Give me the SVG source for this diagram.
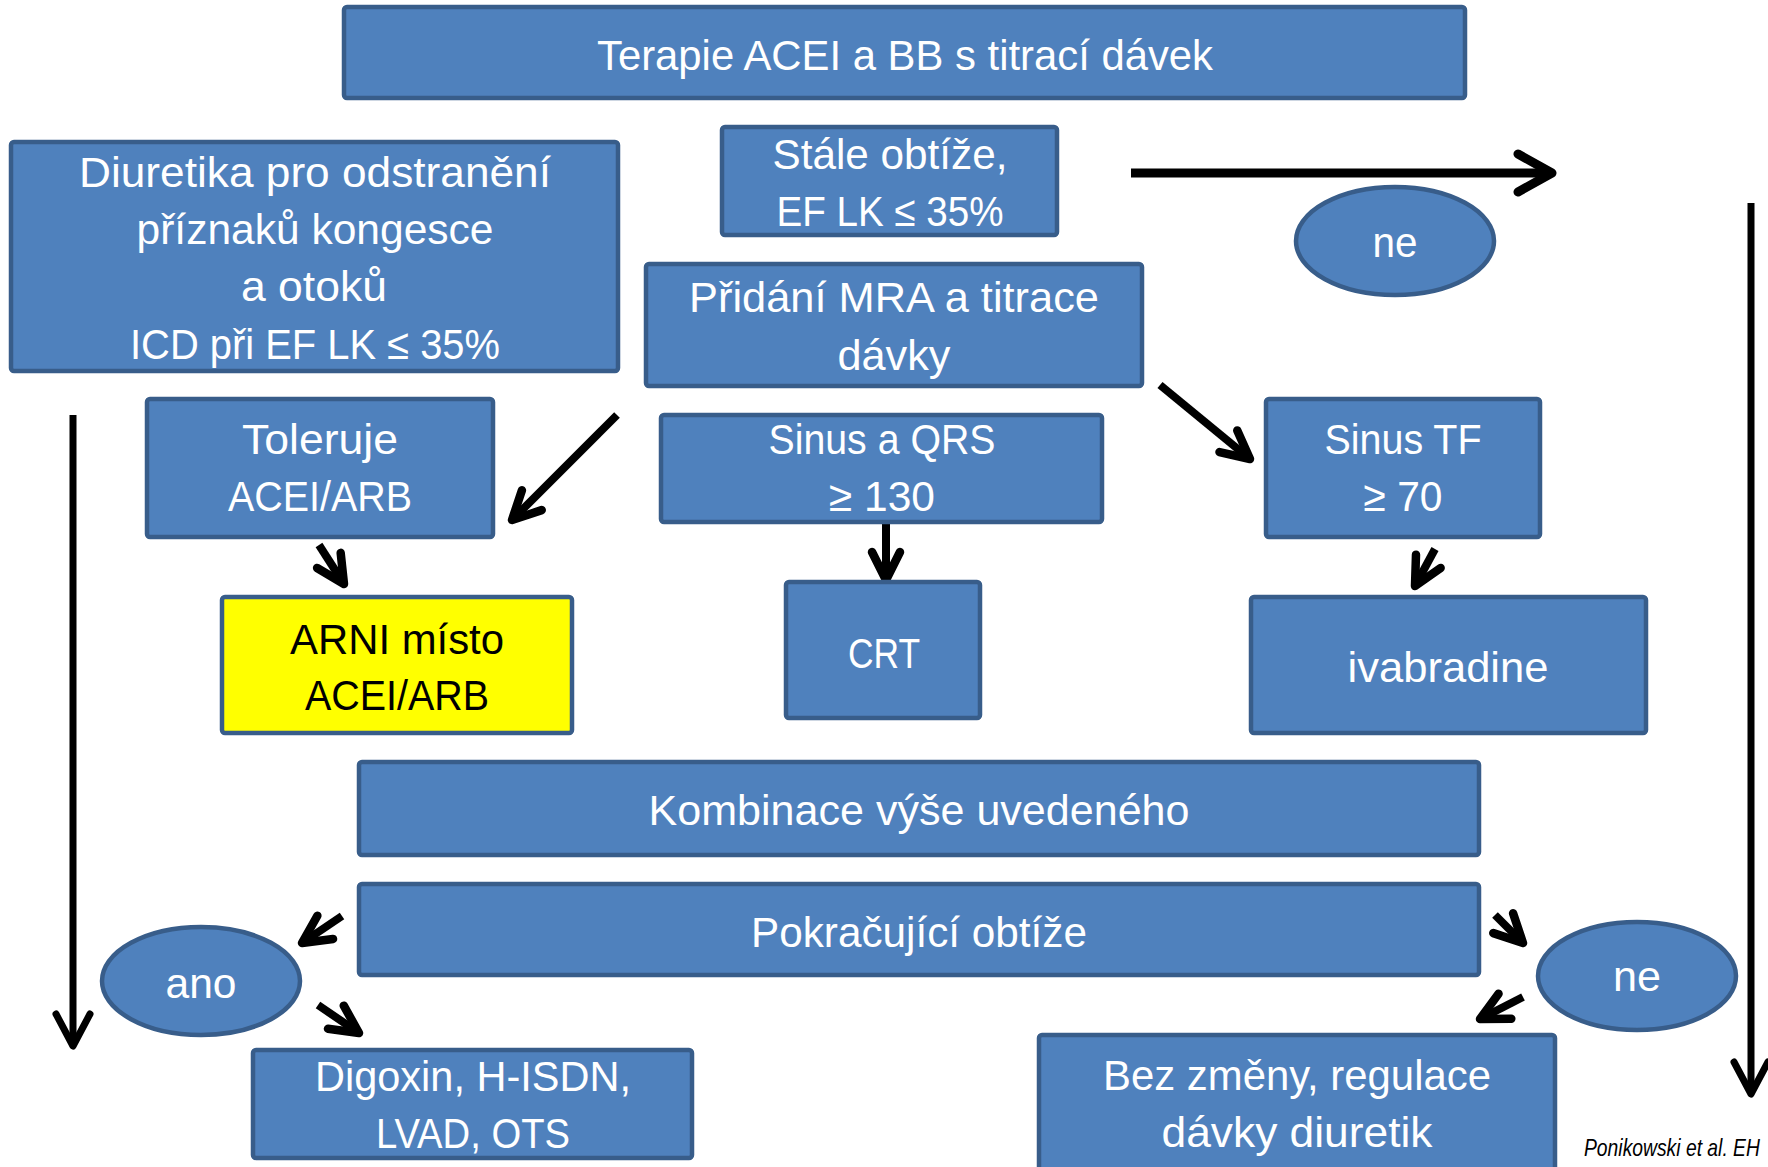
<svg xmlns="http://www.w3.org/2000/svg" width="1768" height="1167" viewBox="0 0 1768 1167">
<style>
.box{fill:#4F81BD;stroke:#385D8A;stroke-width:4.5}
.yel{fill:#FFFF00;stroke:#385D8A;stroke-width:4.5}
.t{font-family:"Liberation Sans",Arial,sans-serif;font-size:43px;fill:#FFFFFF;text-anchor:middle}
.tb{fill:#000000}
.ar{stroke:#000;fill:none;stroke-width:8;stroke-linecap:butt}
.cite{font-family:"Liberation Sans",Arial,sans-serif;font-size:23px;font-style:italic;fill:#000}
</style>
<defs>
<marker id="ah" markerUnits="userSpaceOnUse" orient="auto" refX="0" refY="0" markerWidth="60" markerHeight="60" overflow="visible">
<path d="M-28,-14 L0,0 L-28,14" fill="none" stroke="#000" stroke-width="8.5" stroke-linecap="round" stroke-linejoin="round"/>
</marker>
<marker id="ahH" markerUnits="userSpaceOnUse" orient="auto" refX="0" refY="0" markerWidth="60" markerHeight="60" overflow="visible">
<path d="M-34,-19 L0,0 L-34,19" fill="none" stroke="#000" stroke-width="9" stroke-linecap="round" stroke-linejoin="round"/>
</marker>
<marker id="ahV" markerUnits="userSpaceOnUse" orient="auto" refX="0" refY="0" markerWidth="60" markerHeight="60" overflow="visible">
<path d="M-32,-17 L0,0 L-32,17" fill="none" stroke="#000" stroke-width="7" stroke-linecap="round" stroke-linejoin="round"/>
</marker>
</defs>
<rect width="1768" height="1167" fill="#FFFFFF"/>

<g id="connectors">
<line class="ar" x1="1131" y1="173" x2="1552" y2="173" style="stroke-width:9" marker-end="url(#ahH)"/>
<line class="ar" x1="73" y1="415" x2="73" y2="1046" style="stroke-width:7" marker-end="url(#ahV)"/>
<line class="ar" x1="1751" y1="203" x2="1751" y2="1094" style="stroke-width:7" marker-end="url(#ahV)"/>
<line class="ar" x1="617" y1="415" x2="512" y2="520" marker-end="url(#ah)"/>
<line class="ar" x1="1160" y1="385" x2="1250" y2="459" marker-end="url(#ah)"/>
<line class="ar" x1="319" y1="545" x2="344" y2="584" marker-end="url(#ah)"/>
<line class="ar" x1="886" y1="522" x2="886" y2="580" marker-end="url(#ah)"/>
<line class="ar" x1="1435" y1="549" x2="1415" y2="586" marker-end="url(#ah)"/>
<line class="ar" x1="342" y1="916" x2="302" y2="943" marker-end="url(#ah)"/>
<line class="ar" x1="318" y1="1005" x2="359" y2="1033" marker-end="url(#ah)"/>
<line class="ar" x1="1495" y1="915" x2="1523" y2="943" marker-end="url(#ah)"/>
<line class="ar" x1="1523" y1="997" x2="1480" y2="1019" marker-end="url(#ah)"/>
</g>

<g id="n-terapie">
<rect class="box" x="344" y="7" width="1121" height="91" rx="3"/>
<text class="t" x="905" y="70" textLength="616" lengthAdjust="spacingAndGlyphs">Terapie ACEI a BB s titrací dávek</text>
</g>

<g id="n-diuretika">
<rect class="box" x="11" y="142" width="607" height="229" rx="3"/>
<text class="t" x="315" y="187" textLength="472" lengthAdjust="spacingAndGlyphs">Diuretika pro odstranění</text>
<text class="t" x="315" y="244" textLength="357" lengthAdjust="spacingAndGlyphs">příznaků kongesce</text>
<text class="t" x="314" y="301" textLength="146" lengthAdjust="spacingAndGlyphs">a otoků</text>
<text class="t" x="315" y="359" textLength="370" lengthAdjust="spacingAndGlyphs">ICD při EF LK ≤ 35%</text>
</g>

<g id="n-staleobtize">
<rect class="box" x="722" y="127" width="335" height="108" rx="3"/>
<text class="t" x="890" y="169" textLength="235" lengthAdjust="spacingAndGlyphs">Stále obtíže,</text>
<text class="t" x="890" y="226" textLength="227" lengthAdjust="spacingAndGlyphs">EF LK ≤ 35%</text>
</g>

<g id="n-ne-top">
<ellipse class="box" cx="1395" cy="241" rx="99" ry="54"/>
<text class="t" x="1395" y="257" textLength="45" lengthAdjust="spacingAndGlyphs">ne</text>
</g>

<g id="n-mra">
<rect class="box" x="646" y="264" width="496" height="122" rx="3"/>
<text class="t" x="894" y="312" textLength="410" lengthAdjust="spacingAndGlyphs">Přidání MRA a titrace</text>
<text class="t" x="894" y="370" textLength="113" lengthAdjust="spacingAndGlyphs">dávky</text>
</g>

<g id="n-toleruje">
<rect class="box" x="147" y="399" width="346" height="138" rx="3"/>
<text class="t" x="320" y="454" textLength="156" lengthAdjust="spacingAndGlyphs">Toleruje</text>
<text class="t" x="320" y="511" textLength="184" lengthAdjust="spacingAndGlyphs">ACEI/ARB</text>
</g>

<g id="n-sinusqrs">
<rect class="box" x="661" y="415" width="441" height="107" rx="3"/>
<text class="t" x="882" y="454" textLength="227" lengthAdjust="spacingAndGlyphs">Sinus a QRS</text>
<text class="t" x="882" y="511" textLength="106" lengthAdjust="spacingAndGlyphs">≥ 130</text>
</g>

<g id="n-sinustf">
<rect class="box" x="1266" y="399" width="274" height="138" rx="3"/>
<text class="t" x="1403" y="454" textLength="157" lengthAdjust="spacingAndGlyphs">Sinus TF</text>
<text class="t" x="1403" y="511" textLength="79" lengthAdjust="spacingAndGlyphs">≥ 70</text>
</g>

<g id="n-arni">
<rect class="yel" x="222" y="597" width="350" height="136" rx="3"/>
<text class="t tb" x="397" y="654" textLength="214" lengthAdjust="spacingAndGlyphs">ARNI místo</text>
<text class="t tb" x="397" y="710" textLength="184" lengthAdjust="spacingAndGlyphs">ACEI/ARB</text>
</g>

<g id="n-crt">
<rect class="box" x="786" y="582" width="194" height="136" rx="3"/>
<text class="t" x="884" y="668" textLength="72" lengthAdjust="spacingAndGlyphs">CRT</text>
</g>

<g id="n-ivabradine">
<rect class="box" x="1251" y="597" width="395" height="136" rx="3"/>
<text class="t" x="1448" y="682" textLength="201" lengthAdjust="spacingAndGlyphs">ivabradine</text>
</g>

<g id="n-kombinace">
<rect class="box" x="359" y="762" width="1120" height="93" rx="3"/>
<text class="t" x="919" y="825" textLength="541" lengthAdjust="spacingAndGlyphs">Kombinace výše uvedeného</text>
</g>

<g id="n-pokracujici">
<rect class="box" x="359" y="884" width="1120" height="91" rx="3"/>
<text class="t" x="919" y="947" textLength="336" lengthAdjust="spacingAndGlyphs">Pokračující obtíže</text>
</g>

<g id="n-ano">
<ellipse class="box" cx="201" cy="981" rx="99" ry="54"/>
<text class="t" x="201" y="998" textLength="71" lengthAdjust="spacingAndGlyphs">ano</text>
</g>

<g id="n-ne-bottom">
<ellipse class="box" cx="1637" cy="976" rx="99" ry="54"/>
<text class="t" x="1637" y="991" textLength="48" lengthAdjust="spacingAndGlyphs">ne</text>
</g>

<g id="n-digoxin">
<rect class="box" x="253" y="1050" width="439" height="108" rx="3"/>
<text class="t" x="473" y="1091" textLength="316" lengthAdjust="spacingAndGlyphs">Digoxin, H-ISDN,</text>
<text class="t" x="473" y="1148" textLength="194" lengthAdjust="spacingAndGlyphs">LVAD, OTS</text>
</g>

<g id="n-bezzmeny">
<rect class="box" x="1039" y="1035" width="516" height="145" rx="3"/>
<text class="t" x="1297" y="1090" textLength="388" lengthAdjust="spacingAndGlyphs">Bez změny, regulace</text>
<text class="t" x="1297" y="1147" textLength="271" lengthAdjust="spacingAndGlyphs">dávky diuretik</text>
</g>

<text class="cite" transform="translate(1584,1156) scale(0.84,1)" x="0" y="0">Ponikowski et al. EH</text>
</svg>
